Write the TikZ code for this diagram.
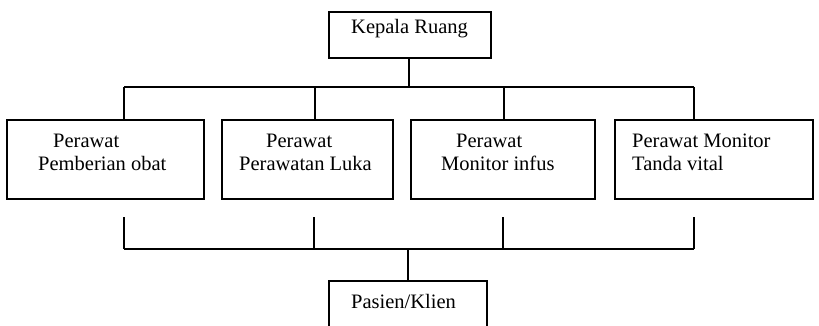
\documentclass[tikz,border=0pt]{standalone}
\usepackage{fontspec}
\setmainfont{Liberation Serif}
\begin{document}
\begin{tikzpicture}[x=1pt,y=-1pt,
  boxnode/.style={draw=black,line width=1.5pt,inner sep=0pt,rectangle},
  lbl/.style={anchor=base west,inner sep=0pt,font=\fontsize{20.5}{23}\selectfont},
  conn/.style={draw=black,line width=1.1pt}]
\clip (0,0) rectangle (819,326);
\fill[white] (0,0) rectangle (819,326);
% boxes
\node[boxnode,minimum width=162pt,minimum height=46pt] (kr) at (410,35) {};
\node[boxnode,minimum width=197pt,minimum height=79pt] (p1) at (105.5,159.5) {};
\node[boxnode,minimum width=171pt,minimum height=79pt] (p2) at (307.5,159.5) {};
\node[boxnode,minimum width=184pt,minimum height=79pt] (p3) at (503,159.5) {};
\node[boxnode,minimum width=198pt,minimum height=79pt] (p4) at (714,159.5) {};
\node[boxnode,minimum width=158pt,minimum height=49pt] (pk) at (408,305.5) {};
% texts
\node[lbl] (tkr) at (351,34) {Kepala Ruang};
\node[lbl] (t1a) at (53,147) {Perawat};
\node[lbl] (t1b) at (38,170) {Pemberian obat};
\node[lbl] (t2a) at (266,147) {Perawat};
\node[lbl] (t2b) at (239,170) {Perawatan Luka};
\node[lbl] (t3a) at (456,147) {Perawat};
\node[lbl] (t3b) at (441,170) {Monitor infus};
\node[lbl] (t4a) at (632,147) {Perawat Monitor};
\node[lbl] (t4b) at (632,170) {Tanda vital};
\node[lbl] (tpk) at (351,308) {Pasien/Klien};
% upper bus
\coordinate (ub) at (409,87);
\coordinate (u1) at (124,87);
\coordinate (u2) at (315,87);
\coordinate (u3) at (504,87);
\coordinate (u4) at (694,87);
\draw[conn] (kr.south -| ub) -- (ub);
\draw[conn] (u1) -- (u4);
\draw[conn] (u1) -- (u1 |- p1.north);
\draw[conn] (u2) -- (u2 |- p2.north);
\draw[conn] (u3) -- (u3 |- p3.north);
\draw[conn] (u4) -- (u4 |- p4.north);
% lower bus
\coordinate (l1) at (124,249);
\coordinate (l2) at (314,249);
\coordinate (l3) at (503,249);
\coordinate (l4) at (694,249);
\coordinate (lb) at (408,249);
\coordinate (s1) at (124,217);
\coordinate (s2) at (314,217);
\coordinate (s3) at (503,217);
\coordinate (s4) at (694,217);
\draw[conn] (s1) -- (l1);
\draw[conn] (s2) -- (l2);
\draw[conn] (s3) -- (l3);
\draw[conn] (s4) -- (l4);
\draw[conn] (l1) -- (l4);
\draw[conn] (lb) -- (lb |- pk.north);
\end{tikzpicture}
\end{document}
